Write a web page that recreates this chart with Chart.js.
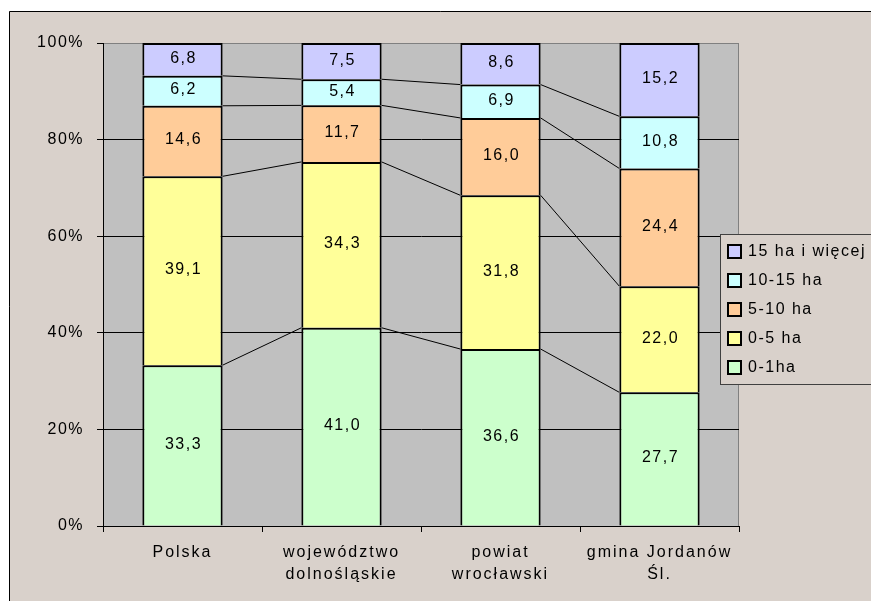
<!DOCTYPE html>
<html>
<head>
<meta charset="utf-8">
<script src="https://cdn.jsdelivr.net/npm/chart.js@4/dist/chart.umd.min.js"></script>
<style>
  html, body { margin: 0; padding: 0; background: #fff; overflow: hidden; }
  canvas { display: block; }
</style>
</head>
<body>
<canvas id="wykres" width="871" height="601"></canvas>
<script>
const kategorie = [["Polska"], ["województwo", "dolnośląskie"], ["powiat", "wrocławski"], ["gmina Jordanów", "Śl."]];
const nazwySerii = ["0-1ha", "0-5 ha", "5-10 ha", "10-15 ha", "15 ha i więcej"];
const kolory = ["#ccffcc", "#ffff99", "#ffcc99", "#ccffff", "#ccccff"];

const ha0_1 = [33.3, 41.0, 36.6, 27.7];
const ha0_5 = [39.1, 34.3, 31.8, 22.0];
const ha5_10 = [14.6, 11.7, 16.0, 24.4];
const ha10_15 = [6.2, 5.4, 6.9, 10.8];
const ha15plus = [6.8, 7.5, 8.6, 15.2];

const yTicki = [0, 20, 40, 60, 80, 100];

const serie = [ha0_1, ha0_5, ha5_10, ha10_15, ha15plus];
// suma kolumn -> 100% stacked jak w Excelu
const sumy = kategorie.map((_, i) => serie.reduce((s, arr) => s + arr[i], 0));

const BEZ = "#d9d1cb";
const FONT = "'Liberation Sans', Arial, sans-serif";

function formatLiczba(v) {
  return v.toFixed(1).replace(".", ",");
}

const tloPlugin = {
  id: "tlo",
  beforeDraw(chart) {
    const { ctx, chartArea: a } = chart;
    ctx.save();
    ctx.fillStyle = "#fff";
    ctx.fillRect(0, 0, chart.width, chart.height);
    ctx.fillStyle = BEZ;
    ctx.fillRect(9, 11, chart.width - 9, chart.height - 11);
    ctx.strokeStyle = "#000";
    ctx.lineWidth = 1;
    ctx.beginPath();
    ctx.moveTo(9.5, chart.height);
    ctx.lineTo(9.5, 11.5);
    ctx.lineTo(chart.width, 11.5);
    ctx.stroke();
    ctx.fillStyle = "#c0c0c0";
    ctx.fillRect(a.left, a.top, a.right - a.left, a.bottom - a.top);
    ctx.strokeStyle = "#808080";
    ctx.beginPath();
    ctx.moveTo(a.left, a.top + 0.5);
    ctx.lineTo(a.right - 0.5, a.top + 0.5);
    ctx.lineTo(a.right - 0.5, a.bottom);
    ctx.stroke();
    ctx.restore();
    ctx.letterSpacing = "1.5px";
  },
  beforeDatasetsDraw(chart) {
    const ctx = chart.ctx;
    // linie serii miedzy slupkami
    ctx.save();
    ctx.strokeStyle = "#000";
    ctx.lineWidth = 1;
    for (let s = 0; s < serie.length - 1; s++) {
      const el = chart.getDatasetMeta(s).data;
      for (let i = 0; i < el.length - 1; i++) {
        const a = el[i], b = el[i + 1];
        ctx.beginPath();
        ctx.moveTo(a.x + a.width / 2, a.y);
        ctx.lineTo(b.x - b.width / 2, b.y);
        ctx.stroke();
      }
    }
    ctx.restore();
  },
  afterDatasetsDraw(chart) {
    const ctx = chart.ctx;
    ctx.save();
    ctx.letterSpacing = "1.5px";
    ctx.font = "16px " + FONT;
    ctx.fillStyle = "#000";
    ctx.textAlign = "center";
    ctx.textBaseline = "middle";
    serie.forEach((arr, s) => {
      chart.getDatasetMeta(s).data.forEach((el, i) => {
        ctx.fillText(formatLiczba(arr[i]), el.x + 1, (el.y + el.base) / 2 - 1);
      });
    });
    ctx.restore();
    // podpisy osi X rysowane po slupkach (z: 1)
    ctx.letterSpacing = "2px";
  },
  afterDraw(chart) {
    const ctx = chart.ctx;
    ctx.save();
    ctx.fillStyle = BEZ;
    ctx.fillRect(720, 234, 160, 150);
    ctx.strokeStyle = "#404040";
    ctx.lineWidth = 1;
    ctx.strokeRect(720.5, 234.5, 170, 150);
    ctx.letterSpacing = "1.5px";
    ctx.font = "16px " + FONT;
    ctx.textBaseline = "middle";
    ctx.textAlign = "left";
    for (let k = 0; k < nazwySerii.length; k++) {
      const s = nazwySerii.length - 1 - k;
      const y = 251 + k * 29;
      ctx.fillStyle = kolory[s];
      ctx.fillRect(728, y - 6, 13, 13);
      ctx.strokeStyle = "#000";
      ctx.lineWidth = 2;
      ctx.strokeRect(728, y - 6, 13, 13);
      ctx.fillStyle = "#000";
      ctx.fillText(nazwySerii[s], 748, y + 1);
    }
    ctx.restore();
    ctx.letterSpacing = "0px";
  }
};

Chart.defaults.font.family = FONT;
Chart.defaults.font.size = 16;
Chart.defaults.color = "#000";

new Chart(document.getElementById("wykres"), {
  type: "bar",
  data: {
    labels: kategorie,
    datasets: serie.map((arr, s) => ({
      label: nazwySerii[s],
      data: arr.map((v, i) => v / sumy[i] * 100),
      backgroundColor: kolory[s],
      borderColor: "#000",
      borderWidth: 2,
      barPercentage: 0.505,
      categoryPercentage: 1
    }))
  },
  options: {
    responsive: false,
    animation: false,
    devicePixelRatio: 1,
    layout: { padding: { left: 0, top: 43, right: 132, bottom: 0 } },
    plugins: { legend: { display: false }, tooltip: { enabled: false } },
    scales: {
      x: {
        stacked: true,
        grid: { drawOnChartArea: false, drawTicks: true, tickLength: 6, color: "#000", offset: true, z: 1 },
        border: { display: true, color: "#000", width: 1, z: 1 },
        ticks: { z: 1, padding: 10, font: { size: 16, lineHeight: 1.375 }, maxRotation: 0, autoSkip: false },
        afterFit(scale) { scale.height = 75; }
      },
      y: {
        stacked: true,
        min: 0,
        max: 100,
        afterBuildTicks(scale) { scale.ticks = yTicki.map(v => ({ value: v })); },
        grid: {
          color: ctx => (ctx.tick && ctx.tick.value === 100 ? "#808080" : "#000"),
          tickColor: "#000",
          tickLength: 6,
          lineWidth: 1
        },
        border: { display: true, color: "#000", width: 1 },
        ticks: { padding: 13, font: { size: 16 }, callback: v => v + "%" },
        afterFit(scale) { scale.width = 103; }
      }
    }
  },
  plugins: [tloPlugin]
});
</script>
</body>
</html>
